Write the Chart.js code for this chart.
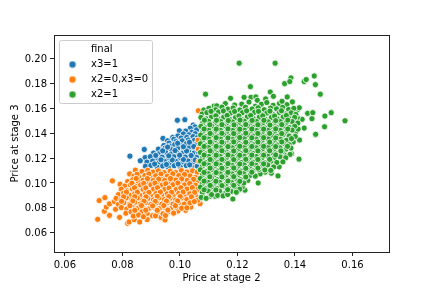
<!DOCTYPE html>
<html>
<head>
<meta charset="utf-8">
<script src="https://cdn.jsdelivr.net/npm/chart.js@4"></script>
<style>body{margin:0;background:#fff}</style>
</head>
<body>
<canvas id="grafico" width="432" height="288"></canvas>
<script>
const legendLabels = ['final', 'x3=1', 'x2=0,x3=0', 'x2=1'];
const xTicks = [0.06, 0.08, 0.10, 0.12, 0.14, 0.16];
const yTicks = [0.06, 0.08, 0.10, 0.12, 0.14, 0.16, 0.18, 0.20];

const puntosX3 = [
[.0826,.1216],[.0876,.1270],[.0991,.1505],[.1017,.1510],[.0998,.1420],[.1046,.1467],[.0941,.1359],[.0975,.1367],[.0957,.1340],
[.1052,.1452],[.1036,.1441],[.1058,.1428],[.1020,.1418],[.1041,.1409],[.1012,.1395],[.1031,.1388],[.1053,.1397],[.0993,.1379],
[.0979,.1352],[.1004,.1362],[.1024,.1368],[.1046,.1374],[.1061,.1366],[.0962,.1321],[.0986,.1333],[.1008,.1339],[.1029,.1346],[.1050,.1343],
[.0944,.1302],[.0966,.1297],[.0982,.1310],[.1003,.1301],[.1022,.1316],[.1041,.1309],[.1059,.1318],[.0925,.1272],[.0948,.1281],[.0971,.1268],
[.0992,.1279],[.1013,.1272],[.1033,.1285],[.1052,.1276],[.0908,.1241],[.0928,.1236],[.0950,.1249],[.0969,.1233],[.0989,.1244],[.1010,.1238],
[.1030,.1250],[.1049,.1240],[.1063,.1252],[.0879,.1205],[.0897,.1212],[.0918,.1199],[.0938,.1208],[.0959,.1197],[.0979,.1211],[.1000,.1202],
[.1019,.1209],[.1040,.1198],[.1058,.1206],[.0862,.1179],[.0885,.1168],[.0905,.1176],[.0926,.1163],[.0946,.1174],[.0966,.1161],[.0987,.1172],
[.1008,.1164],[.1028,.1177],[.1048,.1165],[.1062,.1172],[.0880,.1135],[.0899,.1141],[.0921,.1128],[.0940,.1137],[.0960,.1125],[.0980,.1139],
[.1001,.1130],[.1022,.1140],[.1041,.1127],[.1060,.1136],
[.0912,.1153],[.0953,.1149],[.0994,.1152],[.1034,.1146],[.0934,.1187],[.0973,.1186],[.1012,.1189],[.1053,.1185],[.0916,.1222],[.0961,.1219],
[.0999,.1224],[.1039,.1221],[.0940,.1259],[.0983,.1261],[.1023,.1258],[.0957,.1289],[.1012,.1292],[.1048,.1294],[.0992,.1320],[.1033,.1328]
];

const puntosOrange = [
[.0714,.0707],[.0719,.0858],[.0739,.0882],[.0737,.0772],[.0744,.0806],[.0755,.0739],[.0755,.0832],[.0765,.1017],[.0772,.0850],[.0776,.0788],
[.0790,.0723],[.0792,.0990],[.0818,.0675],[.0823,.0686],[.0841,.0705],[.0860,.0686],[.0886,.0705],[.0934,.0723],[.0948,.0702],[.0904,.0737],
[.0993,.0774],[.1020,.0780],[.1038,.0806],[.1070,.0833],[.1064,.1273],[.1064,.1582],[.1063,.1345],[.1066,.1175],
[.0845,.1103],[.0825,.1073],[.0868,.1092],[.0888,.1102],[.0906,.1087],[.0925,.1098],[.0945,.1084],[.0966,.1096],[.0985,.1085],[.1005,.1100],[.1024,.1088],[.1044,.1098],[.1060,.1086],
[.0840,.1056],[.0858,.1044],[.0878,.1060],[.0897,.1047],[.0916,.1058],[.0936,.1043],[.0956,.1055],[.0976,.1046],[.0996,.1060],[.1015,.1048],[.1035,.1057],[.1054,.1044],
[.0818,.1012],[.0836,.1025],[.0855,.1010],[.0872,.1022],[.0889,.1008],[.0907,.1019],[.0927,.1006],[.0947,.1021],[.0966,.1010],[.0986,.1024],[.1006,.1012],[.1025,.1020],[.1045,.1008],[.1062,.1018],
[.0808,.0975],[.0827,.0986],[.0846,.0972],[.0863,.0984],[.0881,.0970],[.0899,.0985],[.0918,.0973],[.0938,.0982],[.0957,.0969],[.0976,.0986],[.0996,.0974],[.1016,.0984],[.1035,.0971],[.1054,.0982],
[.0796,.0950],[.0815,.0938],[.0835,.0951],[.0853,.0936],[.0872,.0948],[.0890,.0934],[.0908,.0950],[.0927,.0937],[.0947,.0949],[.0966,.0934],[.0986,.0946],[.1006,.0936],[.1024,.0951],[.1044,.0938],[.1061,.0948],
[.0786,.0906],[.0804,.0918],[.0824,.0903],[.0843,.0915],[.0861,.0900],[.0880,.0913],[.0898,.0899],[.0917,.0915],[.0937,.0903],[.0956,.0913],[.0976,.0900],[.0996,.0916],[.1015,.0902],[.1034,.0913],[.1054,.0901],
[.0778,.0876],[.0795,.0864],[.0814,.0880],[.0833,.0866],[.0852,.0878],[.0871,.0863],[.0889,.0876],[.0908,.0864],[.0927,.0880],[.0946,.0866],[.0966,.0877],[.0985,.0863],[.1005,.0879],[.1024,.0867],[.1044,.0876],[.1063,.0862],
[.0786,.0828],[.0805,.0841],[.0825,.0829],[.0843,.0844],[.0862,.0830],[.0880,.0842],[.0899,.0827],[.0918,.0841],[.0937,.0829],[.0957,.0844],[.0976,.0830],[.0996,.0842],[.1015,.0829],[.1035,.0840],
[.0796,.0802],[.0815,.0790],[.0834,.0806],[.0852,.0793],[.0871,.0804],[.0890,.0790],[.0909,.0806],[.0928,.0792],[.0948,.0803],[.0967,.0791],[.0987,.0805],[.1006,.0797],[.1024,.0800],
[.0812,.0756],[.0830,.0768],[.0850,.0754],[.0868,.0768],[.0886,.0755],[.0922,.0766],[.0941,.0752],[.0960,.0768],[.0978,.0757],
[.0838,.0733],[.0856,.0742],[.0873,.0728],[.0915,.0735],[.0950,.0738],
[.0851,.1070],[.0892,.1073],[.0934,.1072],[.0975,.1074],[.1016,.1069],[.0848,.1036],[.0887,.1035],[.0926,.1031],[.0967,.1036],[.1006,.1033],[.1047,.1029],
[.0833,.0998],[.0874,.0996],[.0913,.0999],[.0951,.0994],[.0993,.1000],[.1034,.0996],[.0842,.0961],[.0881,.0960],[.0922,.0962],[.0962,.0959],[.1003,.0961],[.1043,.0963],
[.0814,.0926],[.0852,.0926],[.0892,.0924],[.0932,.0927],[.0971,.0925],[.1011,.0927],[.1051,.0924],[.0804,.0889],[.0843,.0890],[.0882,.0889],[.0921,.0892],[.0961,.0890],[.1001,.0891],[.1040,.0889],
[.0797,.0852],[.0836,.0855],[.0875,.0853],[.0914,.0852],[.0953,.0854],[.0992,.0855],[.1050,.0850],[.0826,.0817],[.0866,.0818],[.0905,.0816],[.0944,.0818],[.0984,.0817],[.0843,.0780],[.0881,.0781],[.0921,.0780],[.0958,.0782]
];

const puntosX2 = [
[.1206,.1965],[.1331,.1965],[.1386,.1846],[.1364,.1800],[.1382,.1817],[.1432,.1817],[.1439,.1833],[.1467,.1862],[.1471,.1792],[.1488,.1715],
[.1245,.1776],[.1314,.1733],[.1325,.1698],[.1176,.1682],[.1223,.1690],[.1247,.1690],[.1264,.1693],[.1269,.1666],[.1298,.1677],[.1373,.1693],
[.1391,.1653],[.1372,.1631],[.1408,.1588],[.1415,.1606],[.1444,.1561],[.1462,.1566],[.1459,.1518],[.1425,.1513],[.1408,.1526],[.1504,.1539],
[.1526,.1566],[.1574,.1501],[.1503,.1453],[.1432,.1442],[.1403,.1410],[.1411,.1434],[.1471,.1388],[.1416,.1346],[.1394,.1330],[.1089,.1715],[.1119,.1620],
[.1272,.1000],[.1184,.0871],[.1226,.0942],[.1217,.0968],[.1341,.1057],[.1318,.1079],[.1296,.1087],[.1279,.1073],[.1345,.1130],[.1414,.1192],[.1388,.1235],[.1472,.1392],[.1362,.1230],[.1383,.1230],[.1247,.1073],[.1122,.0893],[.1104,.0893],[.1079,.0901],
[.1128,.1621],[.1158,.1640],[.1190,.1628],[.1215,.1635],[.1240,.1652],[.1262,.1618],[.1283,.1634],[.1302,.1648],[.1324,.1626],[.1346,.1640],[.1355,.1658],
[.1083,.1588],[.1101,.1602],[.1124,.1590],[.1146,.1611],[.1167,.1595],[.1185,.1604],[.1208,.1588],[.1228,.1610],[.1251,.1596],[.1272,.1606],[.1293,.1590],[.1315,.1603],[.1336,.1597],[.1357,.1609],[.1378,.1592],[.1396,.1601],
[.1077,.1556],[.1094,.1567],[.1113,.1552],[.1134,.1571],[.1155,.1558],[.1176,.1563],[.1196,.1549],[.1217,.1566],[.1238,.1553],[.1259,.1569],[.1281,.1556],[.1302,.1564],[.1324,.1551],[.1346,.1568],[.1367,.1555],[.1387,.1565],[.1403,.1552],
[.1073,.1528],[.1092,.1516],[.1110,.1533],[.1131,.1519],[.1152,.1530],[.1172,.1515],[.1193,.1527],[.1214,.1514],[.1234,.1532],[.1255,.1518],[.1276,.1530],[.1296,.1514],[.1318,.1528],[.1338,.1517],[.1359,.1531],[.1379,.1519],[.1399,.1529],
[.1079,.1483],[.1100,.1496],[.1121,.1481],[.1142,.1494],[.1162,.1479],[.1183,.1491],[.1204,.1480],[.1224,.1497],[.1245,.1482],[.1266,.1495],[.1287,.1478],[.1307,.1492],[.1328,.1481],[.1349,.1494],[.1369,.1482],[.1390,.1495],[.1410,.1483],
[.1073,.1456],[.1090,.1444],[.1111,.1459],[.1131,.1446],[.1152,.1461],[.1173,.1443],[.1194,.1457],[.1214,.1445],[.1235,.1460],[.1256,.1447],[.1276,.1458],[.1297,.1442],[.1318,.1457],[.1339,.1445],[.1359,.1459],[.1380,.1447],[.1399,.1456],
[.1080,.1414],[.1100,.1426],[.1121,.1411],[.1141,.1424],[.1162,.1409],[.1183,.1425],[.1204,.1413],[.1224,.1427],[.1245,.1410],[.1266,.1423],[.1287,.1412],[.1307,.1427],[.1328,.1409],[.1349,.1424],[.1370,.1413],[.1390,.1426],
[.1072,.1386],[.1090,.1374],[.1111,.1389],[.1131,.1376],[.1152,.1391],[.1172,.1373],[.1193,.1387],[.1214,.1375],[.1235,.1390],[.1255,.1377],[.1276,.1388],[.1297,.1372],[.1318,.1386],[.1338,.1376],[.1359,.1390],[.1380,.1378],[.1401,.1375],
[.1079,.1344],[.1100,.1356],[.1121,.1341],[.1141,.1354],[.1162,.1339],[.1182,.1353],[.1203,.1342],[.1224,.1357],[.1245,.1340],[.1265,.1354],[.1286,.1342],[.1307,.1356],[.1328,.1339],[.1349,.1353],[.1370,.1343],[.1388,.1357],
[.1071,.1316],[.1090,.1304],[.1110,.1319],[.1131,.1306],[.1152,.1321],[.1172,.1303],[.1193,.1317],[.1213,.1305],[.1234,.1320],[.1255,.1307],[.1276,.1318],[.1296,.1302],[.1317,.1316],[.1338,.1305],[.1359,.1320],[.1380,.1308],
[.1079,.1274],[.1100,.1286],[.1120,.1271],[.1141,.1284],[.1161,.1269],[.1182,.1283],[.1203,.1272],[.1224,.1287],[.1244,.1270],[.1265,.1284],[.1286,.1272],[.1307,.1286],[.1327,.1269],[.1348,.1283],[.1369,.1273],[.1386,.1281],
[.1071,.1246],[.1090,.1234],[.1110,.1249],[.1130,.1236],[.1151,.1251],[.1172,.1233],[.1192,.1247],[.1213,.1235],[.1234,.1250],[.1255,.1237],[.1275,.1248],[.1296,.1232],[.1317,.1246],[.1337,.1235],[.1355,.1250],
[.1079,.1204],[.1100,.1216],[.1120,.1201],[.1140,.1214],[.1161,.1199],[.1182,.1213],[.1203,.1202],[.1223,.1217],[.1244,.1200],[.1265,.1214],[.1285,.1202],[.1306,.1216],[.1327,.1199],[.1348,.1212],[.1368,.1203],
[.1071,.1176],[.1090,.1164],[.1110,.1179],[.1130,.1166],[.1151,.1181],[.1171,.1163],[.1192,.1177],[.1213,.1165],[.1233,.1180],[.1254,.1167],[.1275,.1178],[.1295,.1162],[.1316,.1176],[.1337,.1165],[.1358,.1170],
[.1078,.1134],[.1099,.1146],[.1120,.1131],[.1140,.1144],[.1161,.1129],[.1181,.1143],[.1202,.1132],[.1223,.1147],[.1243,.1130],[.1264,.1144],[.1285,.1132],[.1305,.1146],[.1326,.1129],
[.1071,.1106],[.1090,.1094],[.1110,.1109],[.1130,.1096],[.1150,.1111],[.1171,.1093],[.1192,.1107],[.1212,.1095],[.1233,.1110],[.1254,.1097],[.1274,.1108],[.1295,.1105],[.1316,.1101],
[.1078,.1064],[.1098,.1076],[.1119,.1061],[.1140,.1074],[.1160,.1059],[.1181,.1073],[.1202,.1062],[.1222,.1077],[.1226,.1033],[.1243,.1060],[.1262,.1055],
[.1071,.1036],[.1090,.1024],[.1110,.1039],[.1130,.1026],[.1150,.1041],[.1170,.1023],[.1191,.1037],[.1211,.1025],[.1236,.1020],
[.1078,.0994],[.1098,.1006],[.1118,.0991],[.1139,.1004],[.1160,.0989],[.1180,.1003],[.1201,.0992],[.1222,.1000],
[.1071,.0966],[.1090,.0954],[.1110,.0969],[.1129,.0956],[.1150,.0971],[.1170,.0953],[.1191,.0967],[.1208,.0950],
[.1078,.0924],[.1098,.0936],[.1118,.0921],[.1138,.0934],[.1159,.0919],[.1178,.0932],[.1196,.0925],
[.1074,.0884],[.1091,.0876],[.1110,.0906],[.1131,.0900],[.1150,.0896],[.1166,.0907],
[.1108,.1577],[.1151,.1580],[.1190,.1576],[.1232,.1581],[.1273,.1577],[.1313,.1579],[.1353,.1582],[.1125,.1541],[.1164,.1544],[.1205,.1540],[.1246,.1543],[.1288,.1541],[.1329,.1539],[.1370,.1543],
[.1085,.1506],[.1127,.1505],[.1168,.1503],[.1209,.1507],[.1251,.1504],[.1292,.1505],[.1333,.1502],[.1375,.1506],[.1104,.1469],[.1146,.1470],[.1188,.1468],[.1229,.1471],[.1271,.1469],[.1313,.1467],[.1354,.1470],
[.1084,.1435],[.1126,.1434],[.1167,.1436],[.1208,.1433],[.1250,.1435],[.1291,.1434],[.1333,.1436],[.1375,.1435],[.1105,.1399],[.1146,.1400],[.1187,.1398],[.1229,.1401],[.1271,.1399],[.1312,.1400],[.1354,.1398],
[.1084,.1364],[.1126,.1365],[.1167,.1363],[.1208,.1366],[.1250,.1364],[.1291,.1365],[.1333,.1363],[.1105,.1330],[.1146,.1329],[.1187,.1331],[.1229,.1328],[.1271,.1330],[.1312,.1329],[.1354,.1331],
[.1084,.1294],[.1126,.1295],[.1167,.1293],[.1208,.1296],[.1250,.1294],[.1291,.1295],[.1333,.1293],[.1374,.1295],[.1105,.1259],[.1146,.1260],[.1187,.1258],[.1229,.1261],[.1271,.1259],[.1312,.1260],[.1351,.1258],
[.1084,.1225],[.1126,.1224],[.1167,.1226],[.1208,.1223],[.1250,.1225],[.1291,.1224],[.1333,.1226],[.1105,.1189],[.1146,.1190],[.1187,.1188],[.1229,.1191],[.1271,.1189],[.1312,.1190],
[.1084,.1155],[.1126,.1154],[.1167,.1156],[.1208,.1153],[.1250,.1155],[.1291,.1154],[.1105,.1120],[.1146,.1119],[.1187,.1121],[.1229,.1118],[.1271,.1120],[.1084,.1085],[.1126,.1084],[.1167,.1086],[.1208,.1083],[.1250,.1087],
[.1104,.1050],[.1146,.1049],[.1187,.1051],[.1229,.1048],[.1084,.1015],[.1125,.1014],[.1167,.1016],[.1208,.1013],[.1105,.0980],[.1146,.0979],[.1187,.0981],[.1084,.0945],[.1125,.0944],[.1166,.0946]
];

const colores = ['#1f77b4', '#ff7f0e', '#2ca02c'];
const series = [puntosX3, puntosOrange, puntosX2];

function handle(color) {
  const c = document.createElement('canvas');
  c.width = 8;
  c.height = 8;
  const g = c.getContext('2d');
  g.fillStyle = color;
  g.beginPath();
  g.arc(4, 4, 3.2, 0, Math.PI * 2);
  g.fill();
  return c;
}

const marco = {
  id: 'marco',
  afterLayout(chart) {
    chart.legend.left = 54;
    chart.legend.top = 39.5;
  },
  afterDraw(chart) {
    const a = chart.chartArea;
    const ctx = chart.ctx;
    ctx.save();
    ctx.strokeStyle = '#222';
    ctx.lineWidth = 1;
    ctx.strokeRect(a.left + 0.5, a.top + 0.5, a.right - a.left, a.bottom - a.top);
    ctx.strokeStyle = '#ccc';
    ctx.beginPath();
    ctx.roundRect(59.5, 40.5, 93, 63, 2);
    ctx.stroke();
    ctx.restore();
  }
};

const eje = (titulo, valores, tituloPad, extra) => ({
  type: 'linear',
  title: { display: true, text: titulo, color: '#000', font: { family: 'DejaVu Sans', size: 10 }, padding: tituloPad },
  grid: { drawOnChartArea: false, drawTicks: true, tickLength: 4, color: '#222' },
  border: { display: false },
  ticks: {
    color: '#000',
    padding: 3,
    autoSkip: false,
    maxRotation: 0,
    font: { family: 'DejaVu Sans', size: 10 },
    callback: v => v.toFixed(2),
    labelOffset: extra.offset
  },
  afterBuildTicks: s => { s.ticks = valores.map(v => ({ value: v })); },
  min: extra.min,
  max: extra.max,
  afterFit: extra.afterFit
});

new Chart(document.getElementById('grafico'), {
  type: 'scatter',
  plugins: [marco],
  data: {
    datasets: series.map((pts, i) => ({
      label: legendLabels[i + 1],
      data: pts.map(p => ({ x: p[0], y: p[1] })),
      backgroundColor: colores[i],
      borderColor: '#fff',
      borderWidth: 0.8,
      pointRadius: 3.1,
      order: 3 - i
    }))
  },
  options: {
    responsive: false,
    animation: false,
    layout: { padding: { left: 0, top: 35, right: 43, bottom: 0 } },
    scales: {
      x: eje('Price at stage 2', xTicks, 4, { offset: 0, min: 0.0562, max: 0.1727, afterFit: s => { s.height = 36; } }),
      y: eje('Price at stage 3', yTicks, 9, { offset: 1, min: 0.0444, max: 0.2192, afterFit: s => { s.width = 54; } })
    },
    plugins: {
      tooltip: { enabled: false },
      legend: {
        position: 'chartArea',
        align: 'start',
        labels: {
          usePointStyle: true,
          pointStyleWidth: 27,
          boxHeight: 5,
          padding: 5,
          color: '#000',
          font: { family: 'DejaVu Sans', size: 10 },
          generateLabels: () => legendLabels.map((t, i) => ({
            text: t,
            fontColor: '#000',
            fillStyle: 'rgba(0,0,0,0)',
            strokeStyle: 'rgba(0,0,0,0)',
            lineWidth: 0,
            pointStyle: i === 0 ? 'circle' : handle(colores[i - 1])
          }))
        }
      }
    }
  }
});
</script>
</body>
</html>
